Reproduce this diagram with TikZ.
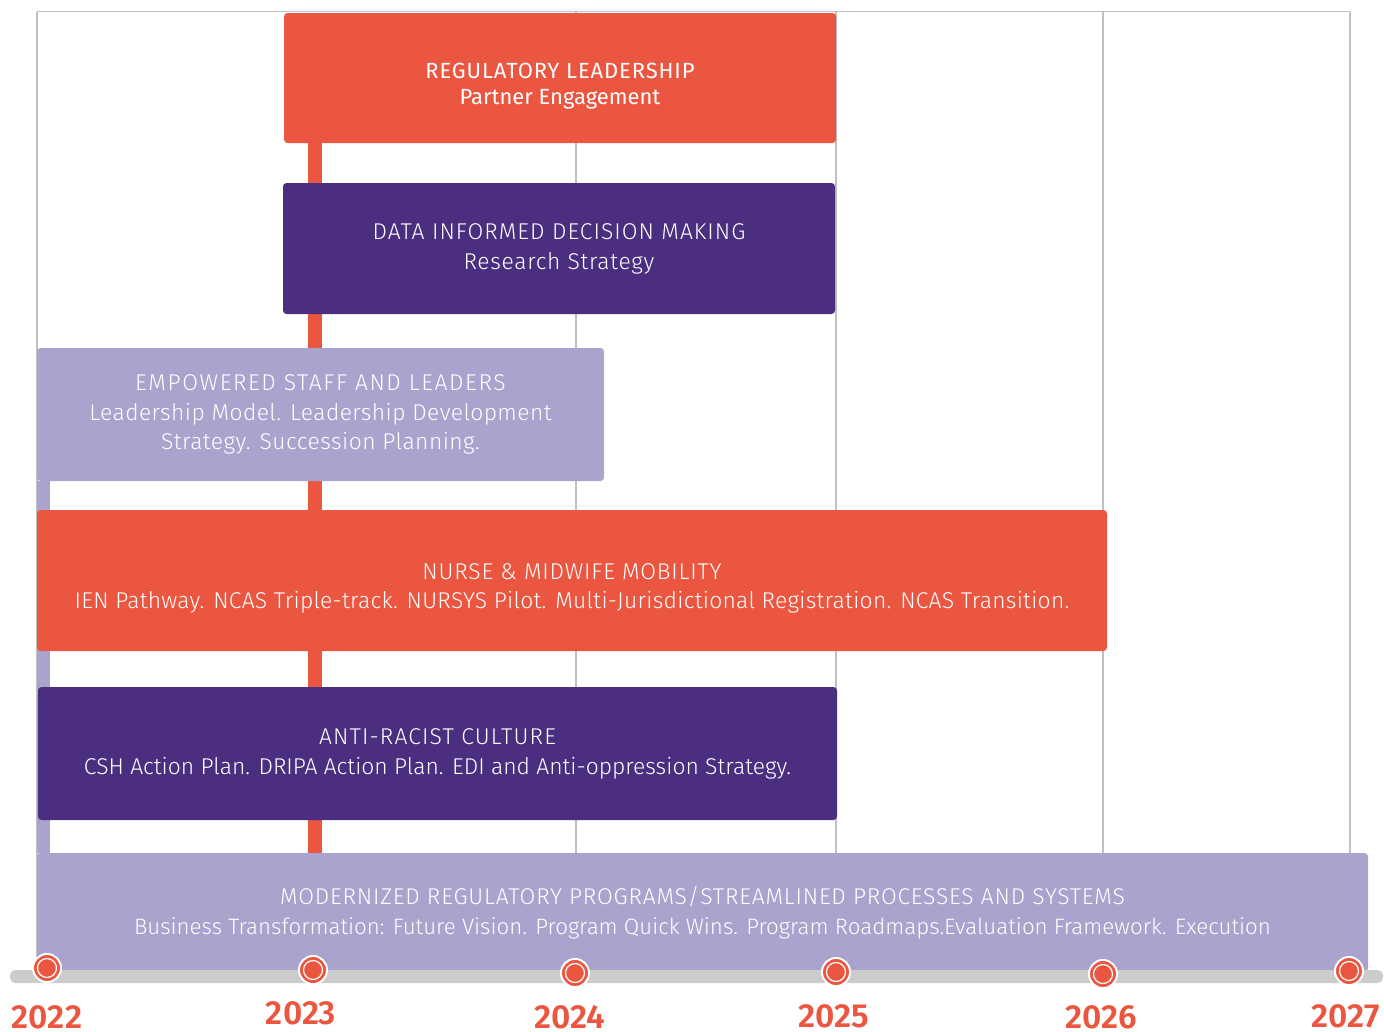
\documentclass[tikz,border=0pt]{standalone}
\usepackage{fontspec}
\setmainfont{Fira Sans}[UprightFont=* Light, BoldFont=* SemiBold]
\newfontfamily\firareg{Fira Sans}
\usetikzlibrary{backgrounds}

\definecolor{cnmred}{RGB}{235,86,65}
\definecolor{cnmpurple}{RGB}{75,46,128}
\definecolor{cnmlilac}{RGB}{169,163,206}
\definecolor{cnmgrid}{RGB}{192,192,192}
\definecolor{cnmaxis}{RGB}{204,204,204}

\def\px{0.02cm}
% spaced caps for the box titles
\newcommand\spaced[2]{{\addfontfeature{LetterSpace=#1}#2}}

\tikzset{
  goalbox/.style={rounded corners=2pt, text=white, align=center, inner sep=0pt,
    font=\fontsize{13}{17}\selectfont},
  yearmark/.style={circle, fill=cnmred, draw=white, line width=1.1pt, minimum size=16pt, inner sep=0pt,
    path picture={\draw[white, line width=0.7pt] (path picture bounding box.center) circle (5.4pt);}},
  yearlabel/.style={text=cnmred, inner sep=0pt, font=\fontsize{19}{19}\selectfont\bfseries},
}

\begin{document}
\begin{tikzpicture}[x=0.02cm, y=-0.02cm]
    \useasboundingbox (0,0) rectangle (1384,1032);

    % Draw the goal boxes
    \node[goalbox, fill=cnmred, minimum width=552*\px, minimum height=130*\px,
      font=\firareg\fontsize{12.5}{15.3}\selectfont] (regulatory) at (560,78)
      {\rule{0pt}{18pt}\spaced{4}{REGULATORY LEADERSHIP}\\Partner Engagement};
    \node[goalbox, fill=cnmpurple, minimum width=552*\px, minimum height=131*\px] (data) at (559,248.5)
      {\spaced{4.5}{DATA INFORMED DECISION MAKING}\\\spaced{3}{Research Strategy}};
    \node[goalbox, fill=cnmlilac, minimum width=567*\px, minimum height=133*\px] (empowered) at (320.5,414.5)
      {\spaced{7}{EMPOWERED STAFF AND LEADERS}\\\spaced{1.8}{Leadership Model. Leadership Development}\\\spaced{2}{Strategy. Succession Planning.}};
    \node[goalbox, fill=cnmred, minimum width=1070*\px, minimum height=141*\px] (mobility) at (572,580.5)
      {\rule{0pt}{18pt}\spaced{3.5}{NURSE \& MIDWIFE MOBILITY}\\\spaced{1.2}{IEN Pathway. NCAS Triple-track. NURSYS Pilot. Multi-Jurisdictional Registration. NCAS Transition.}};
    \node[goalbox, fill=cnmpurple, minimum width=799*\px, minimum height=133*\px] (antiracist) at (437.5,753.5)
      {\spaced{5}{ANTI-RACIST CULTURE}\\CSH Action Plan. DRIPA Action Plan. EDI and Anti-oppression Strategy.};
    \node[goalbox, fill=cnmlilac, minimum width=1331*\px, minimum height=119*\px] (modernized) at (702.5,912.5)
      {\spaced{3.5}{MODERNIZED REGULATORY PROGRAMS/STREAMLINED PROCESSES AND SYSTEMS}\\{\fontsize{12.7}{17}\selectfont Business Transformation: Future Vision. Program Quick Wins. Program Roadmaps.Evaluation Framework. Execution}};

    % Draw the time line
    \node[fill=cnmaxis, rounded corners=3pt, inner sep=0pt, minimum width=1373*\px, minimum height=13*\px] (timeline) at (696.5,976.5) {};

    \node[yearmark] (mark2022) at (47,968) {};
    \node[yearmark] (mark2023) at (313,970) {};
    \node[yearmark] (mark2024) at (575,973) {};
    \node[yearmark] (mark2025) at (836,972) {};
    \node[yearmark] (mark2026) at (1103,974) {};
    \node[yearmark] (mark2027) at (1349,971) {};

    \node[yearlabel] (year2022) at (47,1017) {2022};
    \node[yearlabel] (year2023) at (301,1013) {2023};
    \node[yearlabel] (year2024) at (570,1017) {2024};
    \node[yearlabel] (year2025) at (834,1016) {2025};
    \node[yearlabel] (year2026) at (1101,1017) {2026};
    \node[yearlabel] (year2027) at (1346,1016) {2027};

    % Draw grid and links behind the boxes
    \coordinate (redline) at (315,0);
    \coordinate (lilacline) at (43.5,0);
    \begin{pgfonlayer}{background}
      \draw[cnmgrid, line width=0.6pt] (37,11.5) -- (1350,11.5);
      \draw[cnmgrid, line width=0.6pt] (37,11.5) -- (37,970);
      \draw[cnmgrid, line width=0.6pt] (576,11.5) -- (576,970);
      \draw[cnmgrid, line width=0.6pt] (836,11.5) -- (836,970);
      \draw[cnmgrid, line width=0.6pt] (1103,11.5) -- (1103,970);
      \draw[cnmgrid, line width=0.9pt] (1350,11.5) -- (1350,970);

      \draw[cnmred, line width=14*\px] (regulatory.south -| redline) -- (modernized.north -| redline);
      \draw[cnmlilac, line width=13*\px] (empowered.south -| lilacline) -- (modernized.north -| lilacline);
    \end{pgfonlayer}
\end{tikzpicture}
\end{document}
